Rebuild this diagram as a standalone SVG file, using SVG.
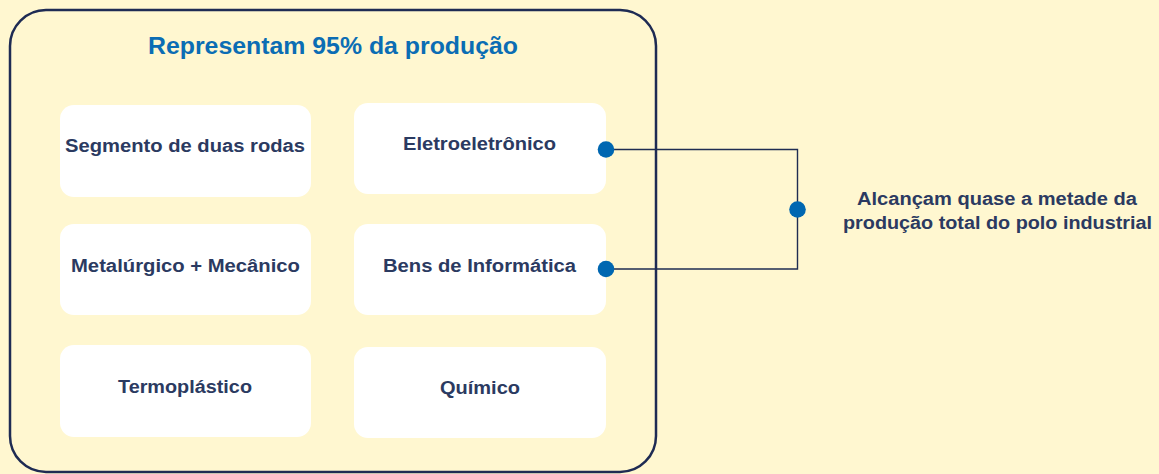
<svg xmlns="http://www.w3.org/2000/svg" width="1159" height="474" viewBox="0 0 1159 474">
<style>
.box{fill:#ffffff;}
.lbl{font-family:"Liberation Sans",Arial,sans-serif;font-weight:bold;font-size:18px;fill:#2b3a61;text-anchor:middle;}
.title{font-family:"Liberation Sans",Arial,sans-serif;font-weight:bold;font-size:23px;fill:#0b6db4;text-anchor:middle;}
.conn{fill:none;stroke:#1f2d52;stroke-width:1.4;}
.dot{fill:#0067b1;}
</style>
<rect x="0" y="0" width="1159" height="474" fill="#fff7d0"/>
<g id="container">
<rect x="10" y="10" width="646" height="462" rx="36" fill="#fff7d0" stroke="#1e2b53" stroke-width="2.5"/>
<text class="title" x="333" y="54" textLength="370" lengthAdjust="spacingAndGlyphs">Representam 95% da produção</text>
</g>
<g id="node-duas-rodas"><rect class="box" x="60" y="105" width="251" height="92" rx="14"/><text class="lbl" x="185" y="152" textLength="240" lengthAdjust="spacingAndGlyphs">Segmento de duas rodas</text></g>
<g id="node-eletro"><rect class="box" x="354" y="103" width="252" height="91" rx="14"/><text class="lbl" x="479.5" y="150" textLength="153" lengthAdjust="spacingAndGlyphs">Eletroeletrônico</text></g>
<g id="node-metal"><rect class="box" x="60" y="224" width="251" height="91" rx="14"/><text class="lbl" x="185.5" y="272" textLength="229" lengthAdjust="spacingAndGlyphs">Metalúrgico + Mecânico</text></g>
<g id="node-informatica"><rect class="box" x="354" y="224" width="252" height="91" rx="14"/><text class="lbl" x="479.5" y="272" textLength="193" lengthAdjust="spacingAndGlyphs">Bens de Informática</text></g>
<g id="node-termo"><rect class="box" x="60" y="345" width="251" height="92" rx="14"/><text class="lbl" x="185" y="393" textLength="134" lengthAdjust="spacingAndGlyphs">Termoplástico</text></g>
<g id="node-quimico"><rect class="box" x="354" y="347" width="252" height="91" rx="14"/><text class="lbl" x="480" y="394" textLength="80" lengthAdjust="spacingAndGlyphs">Químico</text></g>
<g id="connectors">
<path class="conn" d="M606 149.5 H797.5 V269 H606"/>
<circle class="dot" cx="606" cy="149.5" r="8.3"/>
<circle class="dot" cx="606" cy="269" r="8.3"/>
<circle class="dot" cx="797.5" cy="209.5" r="8.3"/>
</g>
<g id="note">
<text class="lbl" x="997" y="205" textLength="280" lengthAdjust="spacingAndGlyphs">Alcançam quase a metade da</text>
<text class="lbl" x="997.5" y="229" textLength="309" lengthAdjust="spacingAndGlyphs">produção total do polo industrial</text>
</g>
</svg>
